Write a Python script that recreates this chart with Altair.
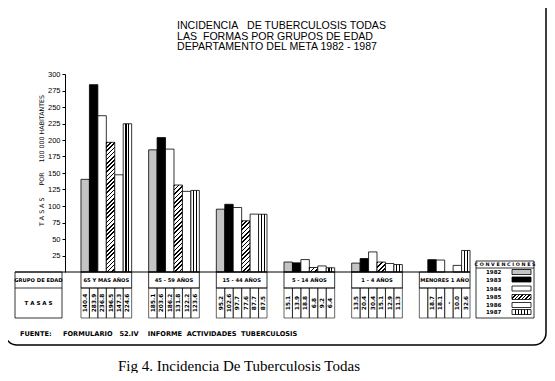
import math
import altair as alt
import pandas as pd

# ---------------- data ----------------
grupos = ["65 Y MAS AÑOS", "45 - 59 AÑOS", "15 - 44 AÑOS", "5 - 14 AÑOS", "1 - 4 AÑOS", "MENORES 1 AÑO"]
anios = ["1982", "1983", "1984", "1985", "1986", "1987"]
tasas_1982 = [140.4, 185.1, 95.2, 15.1, 13.5, None]
tasas_1983 = [283.9, 203.6, 102.6, 13.9, 20.4, 18.7]
tasas_1984 = [236.8, 186.2, 97.7, 18.8, 30.4, 18.1]
tasas_1985 = [196.5, 131.8, 77.6, 6.8, 15.1, None]
tasas_1986 = [147.3, 122.2, 87.7, 9.2, 12.9, 10.0]
tasas_1987 = [224.6, 123.6, 87.5, 6.4, 11.3, 32.6]
sin_dato = {"1982": "", "1985": "-"}
ticks_y = [25, 50, 75, 100, 125, 150, 175, 200, 225, 250, 275, 300]

NB = "\u00a0"
titulo = ["INCIDENCIA" + NB * 3 + "DE TUBERCULOSIS TODAS",
          "LAS" + NB * 2 + "FORMAS POR GRUPOS DE EDAD",
          "DEPARTAMENTO DEL META 1982 - 1987"]
fuente = ("FUENTE:" + NB * 5 + "FORMULARIO" + NB * 3 + "52.IV" + NB * 4 + "INFORME"
          + NB * 2 + "ACTIVIDADES" + NB * 2 + "TUBERCULOSIS")
titulo_y = "T" + NB + "A" + NB + "S" + NB + "A" + NB + "S" + NB * 6 + "POR" + NB * 5 + "100 000 HABITANTES"
leyenda = "Fig 4. Incidencia De Tuberculosis Todas"

tasas = dict(zip(anios, [tasas_1982, tasas_1983, tasas_1984, tasas_1985, tasas_1986, tasas_1987]))
rows = []
for a in anios:
    for g, v in zip(grupos, tasas[a]):
        rows.append({"grupo": g, "anio": a, "tasa": v,
                     "etiqueta": (f"{v:.1f}" if v is not None else sin_dato[a])})
df = pd.DataFrame(rows)
df_g = pd.DataFrame({"grupo": grupos})
uno = pd.DataFrame({"k": [0]})

# ---------------- geometry / styles ----------------
W, H = 421, 198
PI, PO = 0.251, 0.236
step = W / (6 - PI + 2 * PO)
bar_w = step * (1 - PI) / 6
FONT = "DejaVu Sans"


def lg(stops, x1=0.0, y1=0.0, x2=1.0, y2=0.0):
    return alt.LinearGradient(
        gradient="linear",
        stops=[alt.GradientStop(offset=min(1.0, max(0.0, o)), color=c) for o, c in stops],
        x1=x1, y1=y1, x2=x2, y2=y2)


def rayas_verticales(n, grosor):
    st = [(0.0, "white")]
    for i in range(1, n + 1):
        c = i / (n + 1)
        a, b = c - grosor / 2, c + grosor / 2
        st += [(a, "white"), (a, "black"), (b, "black"), (b, "white")]
    st.append((1.0, "white"))
    return lg(st)


def rayado_diagonal(w, h, periodo=3.0, frac=0.38):
    r = h / w
    k = (1 + r) / (1 + r * r)
    n = max(1, round((w + h) / (math.sqrt(2) * periodo)))
    st = []
    for i in range(n):
        a, b, c = i / n, (i + frac) / n, (i + 1) / n
        st += [(a, "black"), (b, "black"), (b, "white"), (c, "white")]
    return lg(st, 0.0, 0.0, k, k * r)


gris = "#c4c4c4"
fills_barra = {"1982": gris, "1983": "black", "1984": "white",
               "1986": "white", "1987": rayas_verticales(2, 0.13)}
fills_muestra = {"1982": gris, "1983": "black", "1984": "white",
                 "1985": rayado_diagonal(19, 5, 2.6, 0.4),
                 "1986": "white", "1987": rayas_verticales(5, 0.07)}

x_enc = alt.X("grupo:N", scale=alt.Scale(domain=grupos, paddingInner=PI, paddingOuter=PO), axis=None)
xo_enc = alt.XOffset("anio:N", scale=alt.Scale(domain=anios, paddingInner=0, paddingOuter=0))
y_enc = alt.Y("tasa:Q",
              scale=alt.Scale(domain=[0, 300], nice=False, zero=True),
              axis=alt.Axis(values=ticks_y, title=titulo_y,
                            titleAngle=270, titleX=-24, titleY=86, titleAlign="center",
                            titleBaseline="middle", titleFont=FONT, titleFontSize=6.3,
                            titleFontWeight="normal", titleColor="black",
                            labelFont="Liberation Sans", labelFontSize=7.5, labelColor="black",
                            labelPadding=2, tickSize=3, tickColor="black", domainColor="black",
                            grid=False))

base = alt.Chart(df)
layers = []

# frame
layers.append(alt.Chart(uno).mark_rect(fill="transparent", stroke="black", strokeWidth=1.5,
                                        cornerRadius=12).encode(
    x=alt.value(-60), x2=alt.value(481), y=alt.value(-95), y2=alt.value(271)))

# bars
for a in anios:
    if a == "1985":
        for g, v in zip(grupos, tasas[a]):
            if v is None:
                continue
            h = v * H / 300
            layers.append(base.transform_filter(
                f"datum.anio == '1985' && datum.grupo == '{g}'").mark_bar(
                fill=rayado_diagonal(bar_w, h), stroke="black", strokeWidth=0.8).encode(
                x=x_enc, xOffset=xo_enc, y=y_enc))
    else:
        layers.append(base.transform_filter(f"datum.anio == '{a}'").mark_bar(
            fill=fills_barra[a], stroke="black", strokeWidth=0.8).encode(
            x=x_enc, xOffset=xo_enc, y=y_enc))

# table
T0, T1, T2 = 198, 214, 244
layers.append(alt.Chart(uno).mark_rule(color="black", strokeWidth=1).encode(
    x=alt.value(-50), x2=alt.value(405), y=alt.value(T0)))
layers.append(alt.Chart(uno).mark_rect(fill="transparent", stroke="black", strokeWidth=0.8).encode(
    x=alt.value(-50), x2=alt.value(-3), y=alt.value(T0), y2=alt.value(T2)))
layers.append(alt.Chart(uno).mark_rule(color="black", strokeWidth=0.8).encode(
    x=alt.value(-50), x2=alt.value(-3), y=alt.value(T1)))
layers.append(alt.Chart(uno).mark_text(font=FONT, fontSize=5.2, fontWeight="bold").encode(
    x=alt.value(-26.5), y=alt.value((T0 + T1) / 2), text=alt.value("GRUPO DE EDAD")))
layers.append(alt.Chart(uno).mark_text(font=FONT, fontSize=5.5, fontWeight="bold").encode(
    x=alt.value(-26.5), y=alt.value((T1 + T2) / 2), text=alt.value("T" + NB + "A" + NB + "S" + NB + "A" + NB + "S")))
layers.append(alt.Chart(df_g).mark_rect(fill="transparent", stroke="black", strokeWidth=0.8).encode(
    x=x_enc, y=alt.value(T0), y2=alt.value(T1)))
layers.append(alt.Chart(df_g).mark_text(font=FONT, fontSize=5.2, fontWeight="bold").encode(
    x=x_enc, y=alt.value((T0 + T1) / 2), text="grupo:N"))
layers.append(base.mark_rect(fill="transparent", stroke="black", strokeWidth=0.6).encode(
    x=x_enc, xOffset=xo_enc, y=alt.value(T1), y2=alt.value(T2)))
layers.append(base.mark_text(font=FONT, fontSize=5.8, fontWeight="bold", angle=270,
                             baseline="middle").encode(
    x=x_enc, xOffset=xo_enc, y=alt.value((T1 + T2) / 2), text="etiqueta:N"))

# legend (convenciones)
layers.append(alt.Chart(uno).mark_rect(fill="white", stroke="black", strokeWidth=0.8).encode(
    x=alt.value(411), x2=alt.value(469), y=alt.value(187), y2=alt.value(244)))
layers.append(alt.Chart(uno).mark_rule(color="black", strokeWidth=0.8).encode(
    x=alt.value(411), x2=alt.value(469), y=alt.value(194)))
layers.append(alt.Chart(uno).mark_text(font=FONT, fontSize=4.8, fontWeight="bold").encode(
    x=alt.value(440), y=alt.value(190.7), text=alt.value("C O N V E N C I O N E S")))
filas_y = [198, 205.5, 214.5, 223, 231, 238]
for a, fy in zip(anios, filas_y):
    layers.append(alt.Chart(uno).mark_text(font=FONT, fontSize=5.5, fontWeight="bold",
                                           align="left").encode(
        x=alt.value(421), y=alt.value(fy), text=alt.value(a)))
    layers.append(alt.Chart(uno).mark_rect(fill=fills_muestra[a], stroke="black",
                                           strokeWidth=0.8).encode(
        x=alt.value(447), x2=alt.value(466), y=alt.value(fy - 2.5), y2=alt.value(fy + 2.5)))

# texts
layers.append(alt.Chart(uno).mark_text(font="Liberation Sans", fontSize=10.6, align="left",
                                       baseline="top", lineHeight=10.5,
                                       text=titulo).encode(
    x=alt.value(112), y=alt.value(-53)))
layers.append(alt.Chart(uno).mark_text(font=FONT, fontSize=6.6, fontWeight="bold",
                                       align="left").encode(
    x=alt.value(-45), y=alt.value(260), text=alt.value(fuente)))
layers.append(alt.Chart(uno).mark_text(font="Liberation Serif", fontSize=15).encode(
    x=alt.value(174), y=alt.value(292), text=alt.value(leyenda)))

chart = alt.layer(*layers).properties(
    width=W, height=H,
    autosize=alt.AutoSizeParams(type="none"),
    padding={"left": 57, "top": 66, "right": 61, "bottom": 101},
).configure_view(strokeWidth=0)

chart.save("out.html", embed_options={"renderer": "svg", "actions": False})
